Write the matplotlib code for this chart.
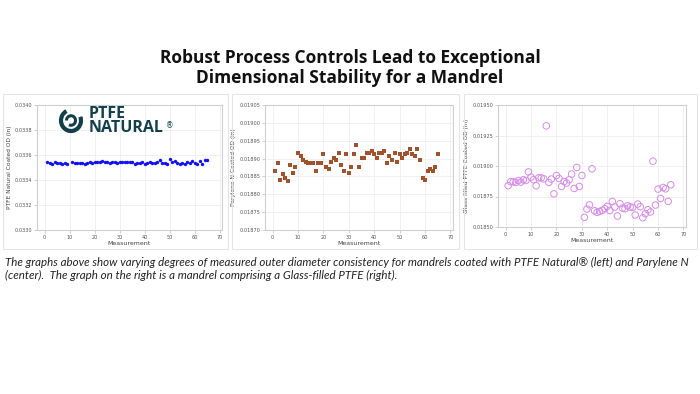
import numpy as np
import matplotlib.pyplot as plt
from matplotlib.patches import Rectangle, Arc

# measurement index
meas_a = [1, 2, 3, 4, 5, 6, 7, 8, 9] + list(range(11, 66))
meas = list(range(1, 66))

# PTFE Natural coated OD (in)
od_ptfe = [0.033547, 0.033533, 0.033525, 0.033547, 0.033536, 0.033533, 0.033525, 0.033539, 0.033528,
           0.033544, 0.033536, 0.033536, 0.033539, 0.033539, 0.033528, 0.033539, 0.033547, 0.033539, 0.033544,
           0.033544, 0.033541, 0.033549, 0.033541, 0.033541, 0.033536, 0.033541, 0.033541, 0.033539, 0.033544,
           0.033544, 0.033547, 0.033544, 0.033541, 0.033541, 0.033531, 0.033539, 0.033533, 0.033541, 0.033531,
           0.033536, 0.033547, 0.033533, 0.033536, 0.033547, 0.033563, 0.033539, 0.033536, 0.033531, 0.033568,
           0.033544, 0.033549, 0.033539, 0.033528, 0.033536, 0.033528, 0.033547, 0.033539, 0.033552, 0.033533,
           0.033531, 0.033555, 0.033531, 0.033560, 0.033557]

# Parylene N coated OD (in)
od_pary = [0.018866, 0.018887, 0.018841, 0.018856, 0.018847, 0.018836, 0.018881, 0.018861, 0.018876, 0.018917,
           0.018906, 0.018896, 0.018890, 0.018887, 0.018887, 0.018887, 0.018866, 0.018887, 0.018887, 0.018912,
           0.018876, 0.018872, 0.018891, 0.018902, 0.018896, 0.018917, 0.018881, 0.018866, 0.018912, 0.018861,
           0.018876, 0.018912, 0.018937, 0.018876, 0.018902, 0.018902, 0.018917, 0.018917, 0.018921, 0.018912,
           0.018902, 0.018917, 0.018917, 0.018921, 0.018887, 0.018906, 0.018896, 0.018917, 0.018891, 0.018912,
           0.018902, 0.018912, 0.018917, 0.018927, 0.018912, 0.018906, 0.018927, 0.018896, 0.018847, 0.018841,
           0.018866, 0.018872, 0.018866, 0.018876, 0.018912]

# Glass filled PTFE coated OD (in)
od_glass = [0.018838, 0.018871, 0.018870, 0.018865, 0.018881, 0.018868, 0.018887, 0.018881, 0.018952, 0.018909,
            0.018887, 0.018838, 0.018903, 0.018903, 0.018895, 0.019329, 0.018865, 0.018893, 0.018772, 0.018922,
            0.018898, 0.018832, 0.018873, 0.018860, 0.018887, 0.018934, 0.018816, 0.018988, 0.018832, 0.018922,
            0.018579, 0.018647, 0.018682, 0.018977, 0.018633, 0.018620, 0.018628, 0.018636, 0.018650, 0.018669,
            0.018636, 0.018710, 0.018664, 0.018590, 0.018691, 0.018655, 0.018650, 0.018674, 0.018664, 0.018661,
            0.018598, 0.018688, 0.018666, 0.018576, 0.018609, 0.018642, 0.018623, 0.019040, 0.018680, 0.018811,
            0.018734, 0.018824, 0.018813, 0.018710, 0.018846]

W, H = 700, 394
fig = plt.figure(figsize=(7, 3.94), dpi=100)
fig.patch.set_facecolor("white")


def fx(px):
    return px / W


def fy(py):
    return 1 - py / H


fig.text(0.5, fy(68), "Robust Process Controls Lead to Exceptional\nDimensional Stability for a Mandrel",
         ha="center", va="center", fontsize=12.5, fontweight="bold", family="Open Sans",
         color="#111111", linespacing=1.15)

# panel cards
for x0, x1 in [(3, 228), (232, 459), (464, 697)]:
    fig.patches.append(Rectangle((fx(x0), fy(249)), fx(x1 - x0), (249 - 94) / H,
                                 transform=fig.transFigure, fill=False,
                                 edgecolor="#e4e4e4", linewidth=0.8))


def style(ax, ylab, ymin, ymax, step, fmt):
    ax.set_xlim(-3, 71)
    ax.set_ylim(ymin, ymax)
    ax.set_xticks(np.arange(0, 71, 10))
    ax.set_yticks(np.arange(ymin, ymax + step / 2, step))
    ax.set_yticklabels([fmt.format(v) for v in np.arange(ymin, ymax + step / 2, step)])
    ax.grid(True, color="#eeeeee", linewidth=0.6)
    ax.set_axisbelow(True)
    for s in ax.spines.values():
        s.set_color("#cfcfcf")
        s.set_linewidth(0.8)
    ax.tick_params(labelsize=3.6, colors="#555555", length=2, width=0.5, color="#bbbbbb", pad=1.5)
    ax.set_xlabel("Measurement", fontsize=4.5, color="#444444", labelpad=1)
    ax.set_ylabel(ylab, fontsize=4.2, color="#444444", labelpad=2)


ax1 = fig.add_axes([fx(37), fy(230), fx(222 - 37), (230 - 105) / H])
ax1.scatter(meas_a, od_ptfe, s=6, marker="o", color="#1010ff", linewidths=0)
style(ax1, "PTFE Natural Coated OD (in)", 0.0330, 0.0340, 0.0002, "{:.4f}")

# logo
logo = "#123f4a"
fig.patches.append(Arc((fx(71), fy(120.5)), fx(20), 21 / H, theta1=105, theta2=35,
                       transform=fig.transFigure, color=logo, linewidth=3.0))
fig.patches.append(Arc((fx(71), fy(120.5)), fx(9), 9.5 / H, theta1=255, theta2=180,
                       transform=fig.transFigure, color=logo, linewidth=2.2))
fig.text(fx(89), fy(121), "PTFE\nNATURAL", fontsize=11.5, fontweight="bold",
         family="Open Sans", color=logo, va="center", ha="left", linespacing=0.85)
fig.text(fx(166), fy(126), "\u00ae", fontsize=5.5, color=logo, va="center", ha="left")

ax2 = fig.add_axes([fx(265), fy(230), fx(453 - 265), (230 - 105) / H])
ax2.scatter(meas, od_pary, s=6, marker="s", color="#a0522d", linewidths=0)
style(ax2, "Parylene N Coated OD (in)", 0.01870, 0.01905, 0.00005, "{:.5f}")

ax3 = fig.add_axes([fx(498), fy(227), fx(686 - 498), (227 - 105) / H])
ax3.scatter(meas, od_glass, s=22, facecolors="none", edgecolors="#d58ce8", linewidths=0.7)
style(ax3, "Glass filled PTFE Coated OD (in)", 0.01850, 0.01950, 0.00025, "{:.5f}")

fig.text(fx(5), fy(269), "The graphs above show varying degrees of measured outer diameter consistency for mandrels coated "
         "with PTFE Natural\u00ae (left) and Parylene N\n(center).  The graph on the right is a mandrel comprising "
         "a Glass-filled PTFE (right).", ha="left", va="center", fontsize=8.3, style="italic",
         family="Lato", color="#222222", linespacing=1.2)

fig.savefig("out.png", dpi=100)
